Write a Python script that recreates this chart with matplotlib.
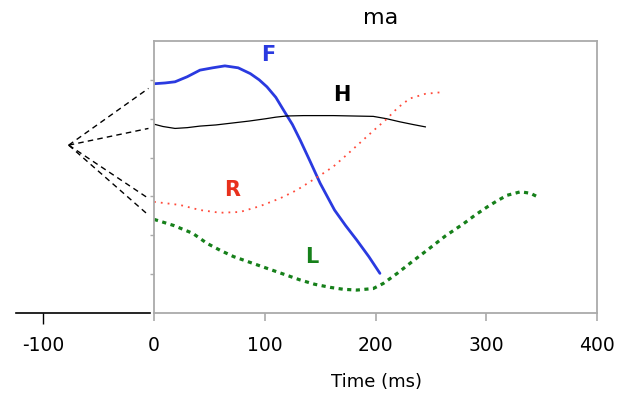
import numpy as np
import matplotlib
matplotlib.use("Agg")
import matplotlib.pyplot as plt

plt.rcParams["axes.unicode_minus"] = False

# values (x in ms, y in arbitrary units 0..7)
f_t = [0, 10, 19, 30, 41.5, 53, 64, 76, 87, 95, 102, 110, 117, 125, 132, 141, 150, 163, 173, 183, 194, 204]
f_y = [5.90, 5.92, 5.95, 6.08, 6.25, 6.31, 6.36, 6.31, 6.16, 6.00, 5.82, 5.55, 5.22, 4.85, 4.45, 3.90,
       3.34, 2.65, 2.25, 1.88, 1.45, 1.02]

h_t = [0, 8, 19, 30, 41.5, 56, 71, 86, 101, 110, 119.5, 135, 150, 162, 180, 198, 210, 222, 234, 245]
h_y = [4.86, 4.80, 4.75, 4.77, 4.81, 4.84, 4.89, 4.94, 5.00, 5.04, 5.07, 5.08, 5.08, 5.08, 5.07, 5.06,
       5.00, 4.92, 4.85, 4.79]

r_t = [0, 12, 23.5, 41.5, 59.6, 77.7, 95.7, 113.8, 128.8, 141, 152, 162, 174, 186, 198, 210, 220,
       231, 245, 259]
r_y = [2.86, 2.82, 2.78, 2.65, 2.58, 2.60, 2.75, 2.95, 3.16, 3.38, 3.58, 3.77, 4.07, 4.38, 4.69, 4.99,
       5.28, 5.52, 5.64, 5.68]

l_t = [0, 18, 35, 48, 60, 72, 87, 102, 117, 132, 145, 159, 171, 183, 198, 207, 219.6, 233, 246.8,
       263, 279.6, 290, 300.9, 310, 318.9, 331, 340, 347]
l_y = [2.41, 2.25, 2.05, 1.79, 1.61, 1.45, 1.30, 1.15, 1.00, 0.85, 0.74, 0.66, 0.61, 0.59, 0.63, 0.76,
       1.02, 1.32, 1.62, 1.98, 2.30, 2.52, 2.73, 2.89, 3.03, 3.12, 3.08, 2.98]

# fan of dashed lines left of zero
fan_x0, fan_y0 = -77, 4.32
fan_x1 = -5
fan_ends = [5.78, 4.75, 2.95, 2.52]

xticks = [0, 100, 200, 300, 400]

W, H = 619, 396
fig = plt.figure(figsize=(W / 100, H / 100), dpi=100)

# main box: pixels 154..597 wide, 41..313 tall
ax = fig.add_axes([154 / W, (H - 313) / H, (597 - 154) / W, (313 - 41) / H])
ax.set_xlim(0, 400)
ax.set_ylim(0, 7)
for s in ax.spines.values():
    s.set_color("#aaaaaa")
    s.set_linewidth(1.3)
ax.set_xticks(xticks)
ax.set_yticks(range(1, 7))
ax.set_yticklabels([])
ax.tick_params(axis="x", direction="out", length=6, color="#aaaaaa", width=1.2,
               labelsize=13.5, pad=10.5)
ax.tick_params(axis="y", direction="out", length=3, color="#aaaaaa", width=1.0)

ax.plot(f_t, f_y, color="#2a3ae0", lw=2.0, solid_capstyle="round")
ax.plot(h_t, h_y, color="black", lw=0.9)
ax.plot(r_t, r_y, color="#ff4a3a", lw=1.3, linestyle=(0, (1, 2.8)))
ax.plot(l_t, l_y, color="#16801a", lw=2.3, linestyle=(0, (1.3, 1.4)))

lab = dict(fontsize=15, fontweight="bold", ha="center", va="center")
ax.text(103, 6.65, "F", color="#2a3ae0", **lab)
ax.text(169.5, 5.62, "H", color="black", **lab)
ax.text(70.4, 3.16, "R", color="#e8301c", **lab)
ax.text(142, 1.45, "L", color="#16801a", **lab)
ax.text(204.7, 7.58, "ma", fontsize=16, ha="center", va="center", clip_on=False)

ax.set_xlabel("Time (ms)", fontsize=13)
ax.xaxis.set_label_coords((376.7 - 154) / 443, -(382 - 313) / 272)
ax.xaxis.label.set_va("center")

# left part with the negative time axis
lx = fig.add_axes([16 / W, (H - 313) / H, (150 - 16) / W, (313 - 41) / H])
lx.set_xlim(-124.6, -3.6)
lx.set_ylim(0, 7)
for k in ["top", "right", "left"]:
    lx.spines[k].set_visible(False)
lx.spines["bottom"].set_linewidth(1.2)
lx.set_yticks([])
lx.set_xticks([-100])
lx.tick_params(axis="x", direction="out", length=8, width=1.0, labelsize=13.5, pad=8.5)
lx.patch.set_alpha(0)

for ye in fan_ends:
    lx.plot([fan_x0, fan_x1], [fan_y0, ye], color="black", lw=1.0,
            linestyle=(0, (4, 3)))

fig.savefig("out.png", dpi=100)
